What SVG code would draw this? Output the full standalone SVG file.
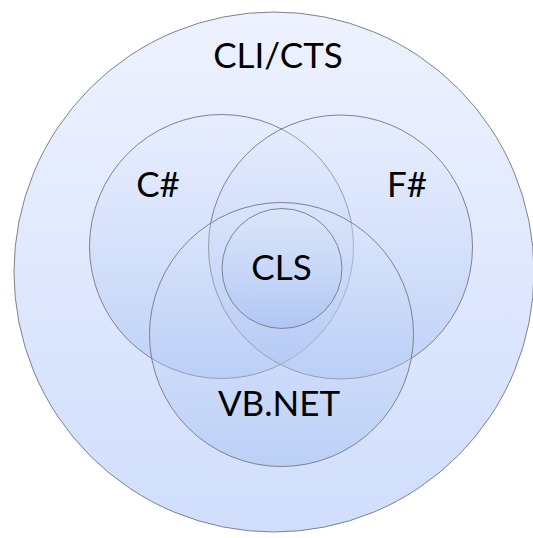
<svg xmlns="http://www.w3.org/2000/svg" width="533" height="538" viewBox="0 0 533 538">
<defs>
<linearGradient id="gBig" x1="0" y1="0" x2="0" y2="1">
<stop offset="0" stop-color="#EEF2FF"/>
<stop offset="1" stop-color="#D0DEFC"/>
</linearGradient>
<linearGradient id="gIn" x1="0" y1="0" x2="0" y2="1">
<stop offset="0" stop-color="#E2EAFC" stop-opacity="0.25"/>
<stop offset="1" stop-color="#9EBAF0" stop-opacity="0.45"/>
</linearGradient>
<style>
.c{stroke:#7d828c;stroke-width:1}
.t{font-family:Lato,"Open Sans","Liberation Sans",sans-serif;font-size:35px;fill:#000;text-anchor:middle}
</style>
</defs>
<rect width="533" height="538" fill="#fff"/>
<g id="cli">
<circle class="c" cx="274" cy="272" r="260" fill="url(#gBig)"/>
<text class="t" x="278" y="68">CLI/CTS</text>
</g>
<g id="csharp">
<circle class="c" cx="221.5" cy="246.5" r="132" fill="url(#gIn)"/>
<text class="t" x="158" y="197">C#</text>
</g>
<g id="fsharp">
<circle class="c" cx="340.5" cy="247" r="132" fill="url(#gIn)"/>
<text class="t" x="407" y="197">F#</text>
</g>
<g id="vbnet">
<circle class="c" cx="281.5" cy="334.5" r="132" fill="url(#gIn)"/>
<text class="t" x="279" y="416">VB.NET</text>
</g>
<g id="cls">
<circle class="c" cx="282" cy="268.5" r="60" fill="url(#gIn)"/>
<text class="t" x="281.5" y="280">CLS</text>
</g>
<g id="connectors"/>
</svg>
